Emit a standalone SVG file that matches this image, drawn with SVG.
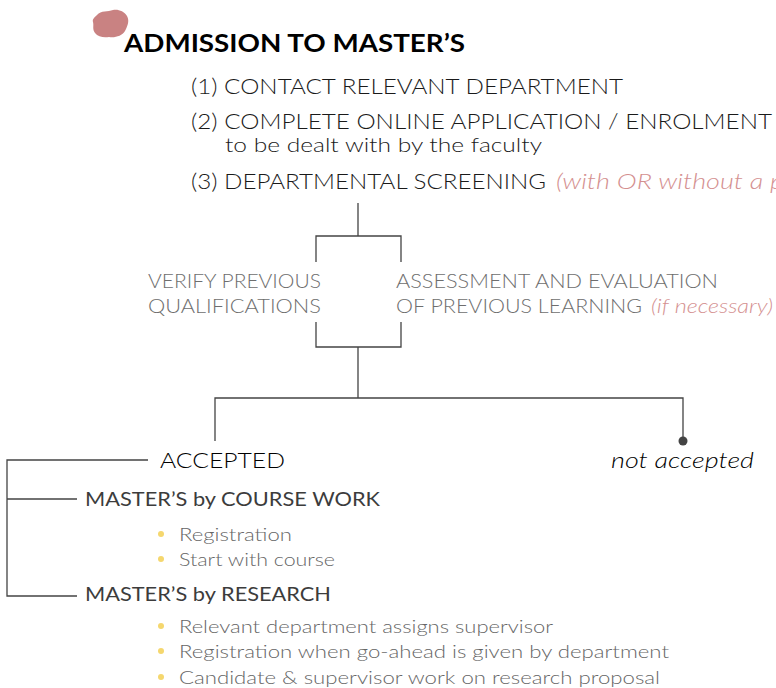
<svg xmlns="http://www.w3.org/2000/svg" width="776" height="688" viewBox="0 0 776 688">
<defs>
<style>
text{font-family:Lato,"Open Sans","Liberation Sans",sans-serif;}
.title{font-size:24px;font-weight:700;fill:#000;}
.step{font-size:22px;font-weight:300;fill:#1a1a1a;}
.sub{font-size:20px;font-weight:300;fill:#1a1a1a;}
.gray{font-size:19px;font-weight:300;fill:#6e6e6e;}
.pink{font-style:italic;fill:#d49090;font-weight:300;}
.acc{font-size:22px;font-weight:300;fill:#000;}
.head{font-size:20px;font-weight:400;fill:#3c3c3c;}
.item{font-size:18px;font-weight:300;fill:#666;}
.bul{fill:#f5d76e;}
.ln{fill:none;stroke:#444;stroke-width:1.3;}
</style>
</defs>
<g id="title">
<path d="M97,15 C101,10 108,12 113,10 C118,9 124,11 127,16 C130,21 127,27 125,31 C122,36 115,38 109,37 C104,38 98,37 95,33 C92,29 94,26 93,22 C92,19 95,17 97,15 Z" fill="#c98282"/>
<text class="title" x="124" y="52" textLength="341" lengthAdjust="spacingAndGlyphs">ADMISSION TO MASTER’S</text>
</g>
<g id="steps">
<text class="step" x="191" y="94" textLength="432" lengthAdjust="spacingAndGlyphs">(1) CONTACT RELEVANT DEPARTMENT</text>
<text class="step" x="191" y="129" textLength="581" lengthAdjust="spacingAndGlyphs">(2) COMPLETE ONLINE APPLICATION / ENROLMENT</text>
<text class="sub" x="225" y="152" textLength="317" lengthAdjust="spacingAndGlyphs">to be dealt with by the faculty</text>
<text class="step" x="191" y="189" textLength="355" lengthAdjust="spacingAndGlyphs">(3) DEPARTMENTAL SCREENING</text>
<text class="step pink" x="556" y="189" textLength="228" lengthAdjust="spacingAndGlyphs">(with OR without a p</text>
</g>
<g id="verify">
<text class="gray" x="148" y="288" textLength="173" lengthAdjust="spacingAndGlyphs">VERIFY PREVIOUS</text>
<text class="gray" x="148" y="313" textLength="173" lengthAdjust="spacingAndGlyphs">QUALIFICATIONS</text>
</g>
<g id="assess">
<text class="gray" x="396" y="288" textLength="322" lengthAdjust="spacingAndGlyphs">ASSESSMENT AND EVALUATION</text>
<text class="gray" x="396" y="313" textLength="246" lengthAdjust="spacingAndGlyphs">OF PREVIOUS LEARNING</text>
<text class="gray pink" x="651" y="313" textLength="122" lengthAdjust="spacingAndGlyphs">(if necessary)</text>
</g>
<g id="accepted">
<text class="acc" x="160" y="468" textLength="125" lengthAdjust="spacingAndGlyphs">ACCEPTED</text>
</g>
<g id="not-accepted">
<text class="acc" x="611" y="468" font-style="italic" textLength="143" lengthAdjust="spacingAndGlyphs">not accepted</text>
</g>
<g id="coursework">
<text class="head" x="85" y="506" textLength="295" lengthAdjust="spacingAndGlyphs">MASTER’S by COURSE WORK</text>
<circle class="bul" cx="161" cy="534" r="3"/>
<text class="item" x="179" y="541" textLength="113" lengthAdjust="spacingAndGlyphs">Registration</text>
<circle class="bul" cx="161" cy="559" r="3"/>
<text class="item" x="179" y="566" textLength="156" lengthAdjust="spacingAndGlyphs">Start with course</text>
</g>
<g id="research">
<text class="head" x="85" y="601" textLength="246" lengthAdjust="spacingAndGlyphs">MASTER’S by RESEARCH</text>
<circle class="bul" cx="161" cy="626" r="3"/>
<text class="item" x="179" y="633" textLength="374" lengthAdjust="spacingAndGlyphs">Relevant department assigns supervisor</text>
<circle class="bul" cx="161" cy="651" r="3"/>
<text class="item" x="179" y="658" textLength="490" lengthAdjust="spacingAndGlyphs">Registration when go-ahead is given by department</text>
<circle class="bul" cx="161" cy="677" r="3"/>
<text class="item" x="179" y="684" textLength="481" lengthAdjust="spacingAndGlyphs">Candidate &amp; supervisor work on research proposal</text>
</g>
<g id="connectors">
<path class="ln" d="M358,203 V236 M316,262 V236 H401 V262"/>
<path class="ln" d="M316,322 V347 H401 V322 M358,347 V398"/>
<path class="ln" d="M215,441 V398 H683 V440"/>
<circle cx="683" cy="441" r="4.5" fill="#444"/>
<path class="ln" d="M148,460 H7 V596 H77 M7,499 H77"/>
</g>
</svg>
